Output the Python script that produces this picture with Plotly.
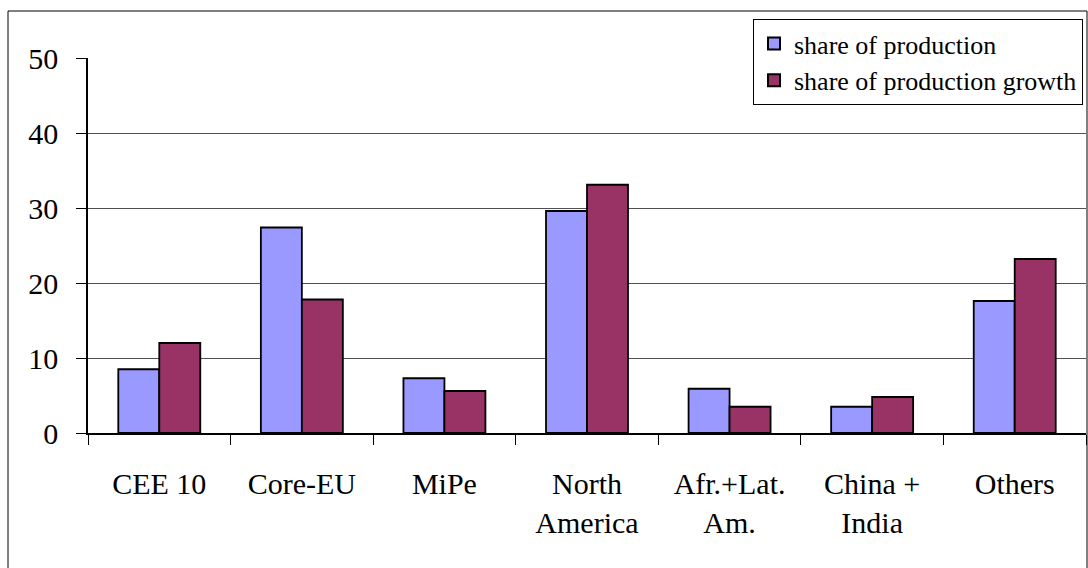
import plotly.graph_objects as go

# Regions and the two share series (percent)
regions = ["CEE 10", "Core-EU", "MiPe", "North<br>America", "Afr.+Lat.<br>Am.",
           "China +<br>India", "Others"]
share_production = [8.5, 27.4, 7.3, 29.6, 5.9, 3.5, 17.6]
share_growth = [12.0, 17.8, 5.6, 33.1, 3.5, 4.8, 23.2]
y_ticks = [0, 10, 20, 30, 40, 50]

W, H = 1088, 568
L, R, T, B = 88, 2, 58, 135
plot_w = W - L - R
plot_h = H - T - B

SERIF = "Liberation Serif"

fig = go.Figure()
fig.add_trace(go.Bar(
    x=regions, y=share_production, name="share of production",
    marker=dict(color="#9999FF", line=dict(color="black", width=1.8)),
))
fig.add_trace(go.Bar(
    x=regions, y=share_growth, name="share of production growth",
    marker=dict(color="#993366", line=dict(color="black", width=1.8)),
))


def px_x(p):
    return (p - L) / plot_w


def px_y(p):
    return (H - B - p) / plot_h


# Outer chart frame
fig.add_shape(
    type="rect", xref="paper", yref="paper",
    x0=px_x(8), x1=px_x(1087), y0=px_y(600), y1=px_y(11),
    line=dict(color="black", width=1), fillcolor="rgba(0,0,0,0)", layer="below",
)

fig.update_layout(
    width=W, height=H,
    margin=dict(l=L, r=R, t=T, b=B),
    paper_bgcolor="white", plot_bgcolor="white",
    barmode="group", bargap=0.425, bargroupgap=0,
    font=dict(family=SERIF, color="black"),
    showlegend=True,
    legend=dict(
        x=px_x(753), y=px_y(19), xanchor="left", yanchor="top",
        bgcolor="white", bordercolor="black", borderwidth=1,
        font=dict(family=SERIF, size=26, color="black"),
        itemsizing="constant", tracegroupgap=0,
    ),
    xaxis=dict(
        showline=True, linecolor="black", linewidth=1.5,
        ticks="outside", tickson="boundaries", ticklen=10, tickcolor="black",
        tickfont=dict(family=SERIF, size=30, color="black"),
        ticklabelstandoff=23,
        showgrid=False,
    ),
    yaxis=dict(
        range=[0, 50], tickvals=y_ticks,
        showline=True, linecolor="black", linewidth=1.5,
        ticks="outside", ticklen=10, tickcolor="black",
        tickfont=dict(family=SERIF, size=30, color="black"),
        ticklabelstandoff=12,
        showgrid=True, gridcolor="#505050", gridwidth=1,
        zeroline=False,
    ),
)

fig.write_html("out.html")
